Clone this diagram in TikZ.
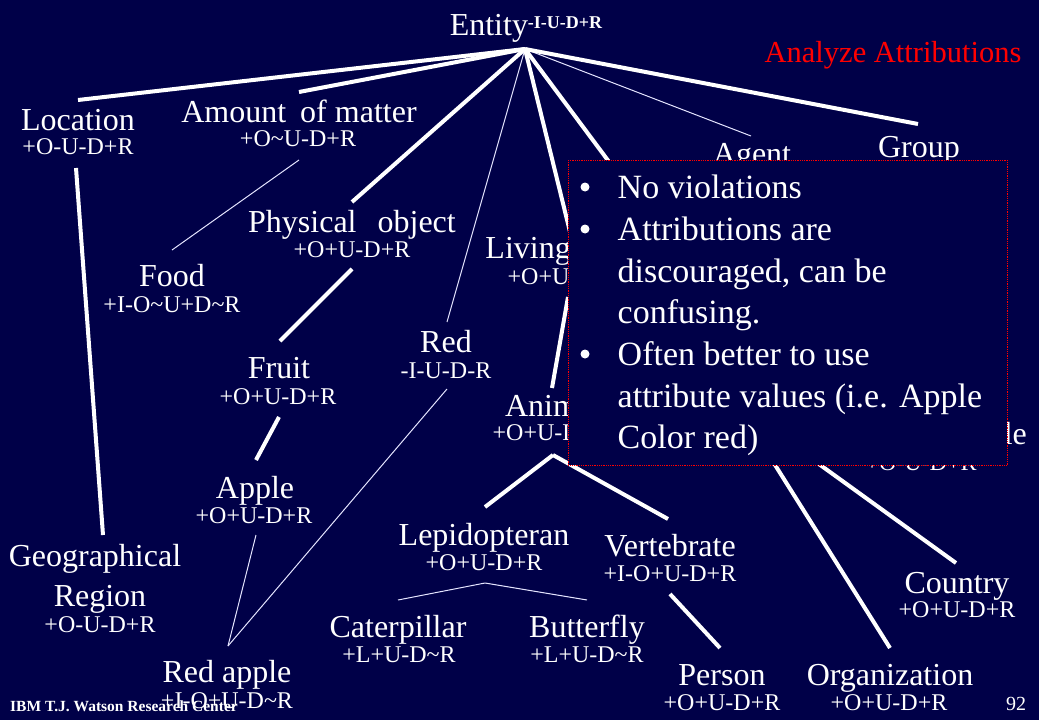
\documentclass[tikz,border=0pt]{standalone}
\usepackage{fontspec}
\setmainfont{Liberation Serif}
\usetikzlibrary{calc}
\definecolor{slide}{RGB}{0,0,72}
\definecolor{alert}{RGB}{255,0,0}
\newcommand\tild{\textasciitilde}

\begin{document}
\begin{tikzpicture}[x=1pt,y=-1pt,
    lbl/.style={white,inner sep=0pt,anchor=base,font=\fontsize{32}{34}\selectfont},
    attr/.style={white,inner sep=0pt,anchor=base,font=\fontsize{24}{26}\selectfont},
    isa/.style={white,line width=4pt},
    thinisa/.style={white!90!blue,line width=1pt},
    notebox/.style={draw=alert,densely dotted,line width=0.8pt,fill=slide,anchor=north west,
        minimum width=439pt,minimum height=305pt,inner sep=0pt},
    notetxt/.style={white,inner sep=0pt,anchor=base west,font=\fontsize{34}{36}\selectfont},
    dot/.style={circle,fill=white,inner sep=0pt,minimum size=9pt}]
        \fill[slide] (0,0) rectangle (1039,720);
        \useasboundingbox (0,0) rectangle (1039,720);

        \node[lbl] (ent) at (526,35) {Entity\raisebox{7pt}{\fontsize{18}{18}\selectfont\bfseries -I-U-D+R}};
        \node[alert,inner sep=0pt,anchor=base,font=\fontsize{30.5}{32}\selectfont] (title) at (893,62) {Analyze Attributions};

        \node[lbl] (loc) at (78,130) {Location};
        \node[attr] (locA) at (78,154) {+O-U-D+R};
        \node[lbl] (amt) at (299,122) {Amount\hspace{6pt} of matter};
        \node[attr] (amtA) at (298,146) {+O\tild U-D+R};
        \node[lbl] (phy) at (352,232) {Physical\hspace{13pt} object};
        \node[attr] (phyA) at (352,257) {+O+U-D+R};
        \node[lbl] (food) at (172,286) {Food};
        \node[attr] (foodA) at (172,312) {+I-O\tild U+D\tild R};
        \node[lbl] (liv) at (565,258) {Living thing};
        \node[attr] (livA) at (566,284) {+O+U-D+R};
        \node[lbl] (red) at (446,352) {Red};
        \node[attr] (redA) at (446,378) {-I-U-D-R};
        \node[lbl] (fruit) at (279,378) {Fruit};
        \node[attr] (fruitA) at (278,404) {+O+U-D+R};
        \node[lbl] (anim) at (553,416) {Animal};
        \node[attr] (animA) at (551,440) {+O+U-D+R};
        \node[lbl] (apple) at (255,498) {Apple};
        \node[attr] (appleA) at (254,523) {+O+U-D+R};
        \node[lbl] (agent) at (752,164) {Agent};
        \node[lbl] (group) at (919,157) {Group};
        \node[lbl] (gop) at (922,444) {Group of people};
        \node[attr] (gopA) at (921,470) {+O-U-D+R};
        \node[lbl] (lep) at (484,545) {Lepidopteran};
        \node[attr] (lepA) at (484,570) {+O+U-D+R};
        \node[lbl] (vert) at (670,556) {Vertebrate};
        \node[attr] (vertA) at (670,581) {+I-O+U-D+R};
        \node[lbl] (geo) at (95,566) {Geographical};
        \node[lbl] (geo2) at (100,606) {Region};
        \node[attr] (geoA) at (100,632) {+O-U-D+R};
        \node[lbl] (country) at (957,593) {Country};
        \node[attr] (countryA) at (957,617) {+O+U-D+R};
        \node[lbl] (cat) at (398,637) {Caterpillar};
        \node[attr] (catA) at (399,662) {+L+U-D\tild R};
        \node[lbl] (butter) at (587,637) {Butterfly};
        \node[attr] (butterA) at (587,662) {+L+U-D\tild R};
        \node[lbl] (redapp) at (227,682) {Red apple};
        \node[attr] (redappA) at (227,708) {+I-O+U-D\tild R};
        \node[lbl] (person) at (722,685) {Person};
        \node[attr] (personA) at (722,710) {+O+U-D+R};
        \node[lbl] (org) at (890,685) {Organization};
        \node[attr] (orgA) at (889,710) {+O+U-D+R};

        \node[white,inner sep=0pt,anchor=base west,font=\fontsize{15.5}{16}\selectfont\bfseries] (ibm) at (10,711) {IBM T.J. Watson Research Center};
        \node[white,inner sep=0pt,anchor=base,font=\fontsize{20}{22}\selectfont] (pg) at (1016,710) {92};

        \coordinate (hub) at ($(ent.base)+(-1,14)$);
        \coordinate (soc) at (630,190);
        \coordinate (orgtop) at (760,441);
        \coordinate (cntop) at (787,441);
        \coordinate (animB) at ($(animA.base)+(2,15)$);
        \coordinate (lepB) at ($(lepA.base)+(1,13)$);
        \coordinate (redappT) at ($(redapp.base)+(1,-36)$);

        \draw[isa] (hub) -- ($(loc.base)+(0,-30)$);
        \draw[isa] (hub) -- ($(amt.base)+(0,-30)$);
        \draw[isa] (hub) -- ($(phy.base)+(0,-30)$);
        \draw[thinisa] (hub) -- ($(red.base)+(1,-30)$);
        \draw[isa] (hub) -- ($(liv.base)+(7,-18)$);
        \draw[isa] (hub) -- (soc);
        \draw[thinisa] (hub) -- ($(agent.base)+(-1,-28)$);
        \draw[isa] (hub) -- ($(group.base)+(-1,-33)$);
        \draw[isa] ($(locA.base)+(-2,14)$) -- ($(geo.base)+(8,-31)$);
        \draw[thinisa] ($(amtA.base)+(1,14)$) -- ($(food.base)+(0,-36)$);
        \draw[isa] ($(phyA.base)+(0,12)$) -- ($(fruit.base)+(1,-37)$);
        \draw[isa] ($(fruitA.base)+(1,13)$) -- ($(apple.base)+(1,-38)$);
        \draw[thinisa] ($(appleA.base)+(2,12)$) -- (redappT);
        \draw[thinisa] ($(redA.base)+(1,11)$) -- (redappT);
        \draw[isa] ($(livA.base)+(2,13)$) -- ($(anim.base)+(-1,-28)$);
        \draw[isa] (animB) -- ($(lep.base)+(1,-38)$);
        \draw[isa] (animB) -- ($(vert.base)+(-2,-37)$);
        \draw[thinisa] (lepB) -- ($(cat.base)+(0,-37)$);
        \draw[thinisa] (lepB) -- ($(butter.base)+(0,-37)$);
        \draw[isa] ($(vertA.base)+(0,13)$) -- ($(person.base)+(-2,-37)$);
        \draw[isa] (orgtop) -- ($(org.base)+(0,-37)$);
        \draw[isa] (cntop) -- ($(country.base)+(-1,-30)$);

        \node[notebox] (box) at (568,160) {};
        \node[dot] (b1) at ($(box.north west)+(17,27)$) {};
        \node[dot] (b2) at ($(box.north west)+(17,69)$) {};
        \node[dot] (b3) at ($(box.north west)+(17,194)$) {};
        \node[notetxt] (t1) at ($(box.north west)+(49.5,38)$) {No violations};
        \node[notetxt] (t2) at ($(box.north west)+(49.5,80)$) {Attributions are};
        \node[notetxt] (t3) at ($(box.north west)+(49.5,122)$) {discouraged, can be};
        \node[notetxt] (t4) at ($(box.north west)+(49.5,163)$) {confusing.};
        \node[notetxt] (t5) at ($(box.north west)+(49.5,205)$) {Often better to use};
        \node[notetxt] (t6) at ($(box.north west)+(49.5,247)$) {attribute values (i.e. Apple};
        \node[notetxt] (t7) at ($(box.north west)+(49.5,288)$) {Color red)};
    \end{tikzpicture}
\end{document}
